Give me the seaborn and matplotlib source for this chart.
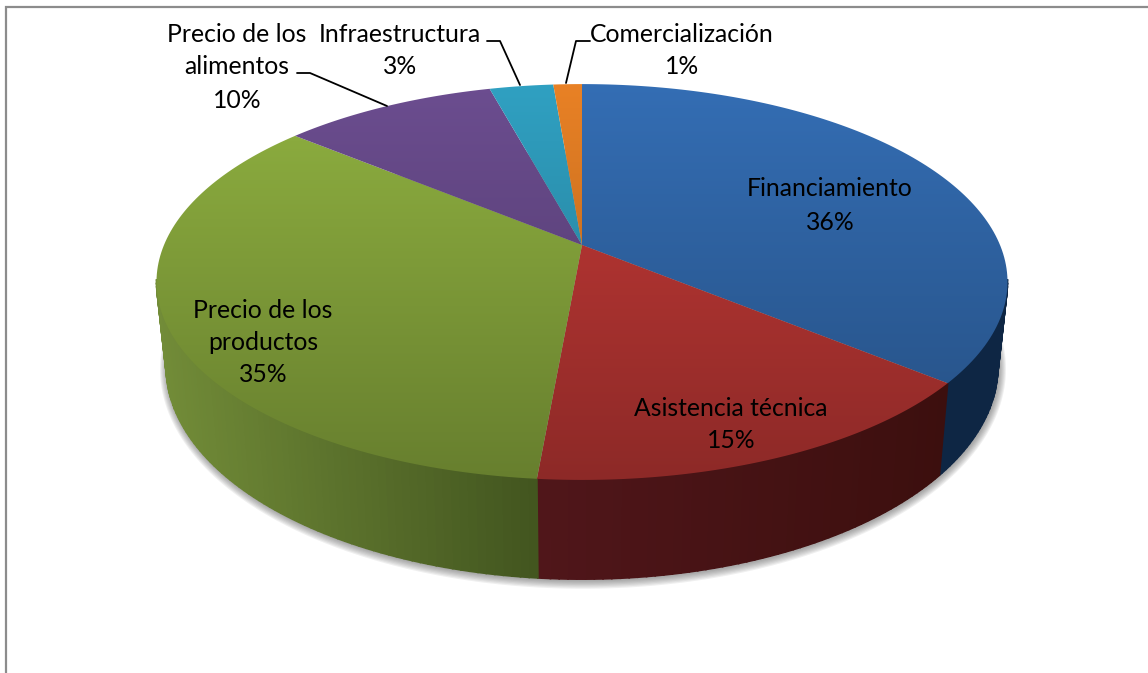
import numpy as np
import matplotlib
matplotlib.use("Agg")
import matplotlib.pyplot as plt
from matplotlib.patches import Polygon
import seaborn as sns

categories = ["Financiamiento", "Asistencia técnica", "Precio de los productos",
              "Precio de los alimentos", "Infraestructura", "Comercialización"]
values = [36.0, 15.4, 34.65, 9.75, 2.9, 1.3]
pct_labels = ["36%", "15%", "35%", "10%", "3%", "1%"]
label_lines = [["Financiamiento", "36%"],
               ["Asistencia técnica", "15%"],
               ["Precio de los", "productos", "35%"],
               ["Precio de los", "alimentos", "10%"],
               ["Infraestructura", "3%"],
               ["Comercialización", "1%"]]
base_colors = ["#3570B8", "#C93B38", "#93B542", "#6E4F93", "#31A4C6", "#EE8426"]
wall_left = ["#0E2644", "#50161A", "#728C38", "#3A2850", "#184F60", "#77421A"]
wall_right = ["#0E2644", "#3C0F0E", "#42551F", "#3A2850", "#184F60", "#77421A"]

sns.set_theme(style="white")
plt.rcParams["font.family"] = ["Lato", "DejaVu Sans"]

fig = plt.figure(figsize=(11.48, 6.73), dpi=100)
ax = fig.add_axes([0, 0, 1, 1])
ax.set_xlim(0, 1148)
ax.set_ylim(673, 0)
ax.axis("off")


def top_xy(t):
    # perspective circle, t in degrees clockwise from 12 o'clock
    x, y = np.sin(np.radians(t)), np.cos(np.radians(t))
    d = 1 + 0.187 * y
    return 582 + 418 * x / d, 245 - 191 * y / d


def bottom_xy(t, grow=0):
    x, y = np.sin(np.radians(t)), np.cos(np.radians(t))
    d = 1 + 0.187 * y
    return 582 + (408.5 + grow) * x / d, 327 - (205 + grow) * y / d


edges = np.concatenate([[0], np.cumsum(values)]) / np.sum(values) * 360

# soft shadow under the pie
all_t = np.linspace(0, 360, 400)
for g in [7, 6, 5, 4, 3, 2, 1]:
    bx, by = bottom_xy(all_t, g)
    ax.add_patch(Polygon(np.c_[bx + 1, by + 1], fc="#555555", ec="none", alpha=0.09, zorder=1))

# side wall, only the front part shows
for i in range(len(values)):
    t0, t1 = max(edges[i], 100), min(edges[i + 1], 260)
    if t1 <= t0:
        continue
    ts = np.append(np.arange(t0, t1, 1.0), t1)
    xs = top_xy(ts)[0]
    c0 = np.array(matplotlib.colors.to_rgb(wall_left[i]))
    c1 = np.array(matplotlib.colors.to_rgb(wall_right[i]))
    for a, b in zip(ts[:-1], ts[1:]):
        tt = np.array([a, b])
        tx, ty = top_xy(tt)
        bx, by = bottom_xy(tt)
        mid = (tx.mean() - xs.min()) / max(xs.max() - xs.min(), 1)
        col = c0 + (c1 - c0) * mid
        ax.add_patch(Polygon([(tx[0], ty[0]), (tx[1], ty[1]), (bx[1], by[1]), (bx[0], by[0])],
                             fc=col, ec=col, lw=1.2, zorder=2))

# top face, vertical fade for every slice
for i in range(len(values)):
    ts = np.linspace(edges[i], edges[i + 1], 120)
    tx, ty = top_xy(ts)
    poly = Polygon(np.r_[[(582, 245)], np.c_[tx, ty]], closed=True, fc="none", ec="none", zorder=3)
    ax.add_patch(poly)
    rgb = np.array(matplotlib.colors.to_rgb(base_colors[i]))
    fade = np.linspace(0.98, 0.70, 256)[:, None, None] * rgb[None, None, :]
    im = ax.imshow(fade, extent=(150, 1015, 482, 82), aspect="auto", zorder=3,
                   interpolation="bilinear")
    im.set_clip_path(poly)
ax.set_xlim(0, 1148)
ax.set_ylim(673, 0)

# leader lines
ax.plot([297, 310, 387], [73, 73, 106], color="black", lw=1.3, zorder=4)
ax.plot([487, 500, 520], [41, 41, 85], color="black", lw=1.3, zorder=4)
ax.plot([590, 576, 566], [41, 41, 83], color="black", lw=1.3, zorder=4)

# data labels
label_x = [830, 731, 263, 237, 400, 682]
label_y = [[189, 222], [409, 441], [311, 343, 375], [34, 67, 100], [34, 67], [34, 67]]
for i in range(len(label_lines)):
    for line, ly in zip(label_lines[i], label_y[i]):
        ax.text(label_x[i], ly, line, ha="center", va="center", fontsize=17.8,
                color="black", zorder=5)

# chart frame
ax.plot([6, 6, 1148], [673, 6.5, 6.5], color="#8C8C8C", lw=1.6, zorder=6,
        solid_joinstyle="miter", clip_on=False)

fig.savefig("out.png", dpi=100, facecolor="white")
